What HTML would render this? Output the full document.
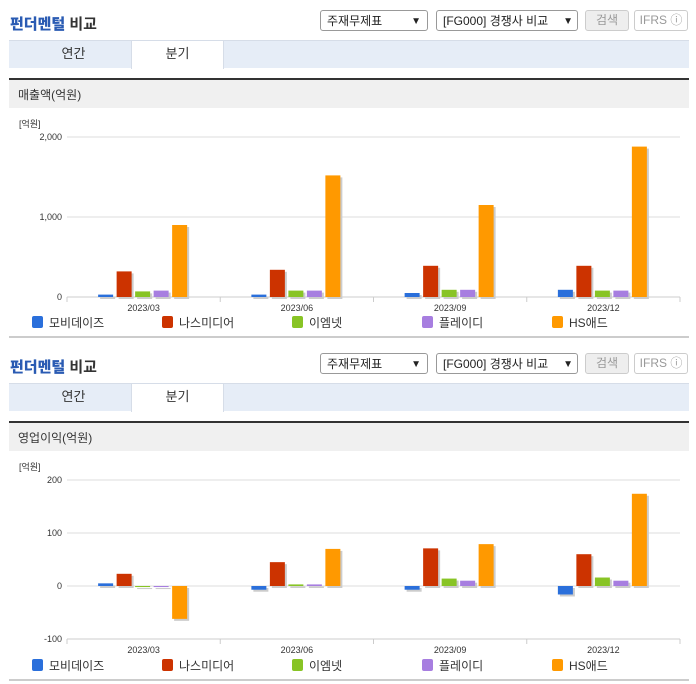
<!DOCTYPE html>
<html><head><meta charset="utf-8">
<style>
body{margin:0;width:696px;height:684px;background:#fff;font-family:"Liberation Sans","Noto Sans CJK KR",sans-serif;position:relative;overflow:hidden}
.abs{position:absolute}
.title{font-size:15px;font-weight:bold;color:#333}
.title b{color:#2a5bb3}
.sel{border:1px solid #999;border-radius:3px;height:21px;font-size:12px;line-height:21px;padding-left:6px;box-sizing:border-box;background:#fff;color:#222}
.btn{border:1px solid #ccc;border-radius:3px;height:21px;font-size:12px;line-height:19px;text-align:center;box-sizing:border-box;color:#999}
.tabs{left:9px;width:680px;height:28px;background:#e6edf7;border-top:1px solid #d6dde8;box-sizing:border-box}
.tab{position:absolute;top:0;height:28px;width:91px;text-align:center;font-size:13px;line-height:26px;color:#333}
.hdr{left:9px;width:680px;height:30px;background:#f0f0f0;border-top:2px solid #333;font-size:12px;line-height:30px;padding-left:9px;box-sizing:border-box;color:#333}
.foot{left:9px;width:680px;height:2px;background:#ccc}
</style></head><body>
<div id="s1"></div><div id="s2"></div>
<script>
const categories=["2023/03","2023/06","2023/09","2023/12"];
const seriesNames=["모비데이즈","나스미디어","이엠넷","플레이디","HS애드"];
const colors=["#2a6fdb","#cc3300","#88c425","#a77ee0","#ff9900"];
const salesValues=[[30,30,50,90],[320,340,390,390],[70,80,90,80],[80,80,90,80],[900,1520,1150,1880]];
const salesTicks=[0,1000,2000];
const salesTickLabels=["0","1,000","2,000"];
const opValues=[[5,-7,-7,-16],[23,45,71,60],[-2,3,14,16],[-2,3,10,10],[-62,70,79,174]];
const opTicks=[-100,0,100,200];
const opTickLabels=["-100","0","100","200"];

function section(id,off,head,vals,ticks,labels,ymin,ymax,yTop,yBot){
  const s=document.getElementById(id);
  
  
  s.innerHTML=`
  <div class="abs title" style="left:10px;top:${off+13}px"><b>펀더멘털</b> 비교</div>
  <div class="abs sel" style="left:320px;top:${off+10}px;width:108px">주재무제표<span style="position:absolute;right:6px;font-size:10px">▼</span></div>
  <div class="abs sel" style="left:436px;top:${off+10}px;width:142px">[FG000] 경쟁사 비교<span style="position:absolute;right:4px;font-size:10px">▼</span></div>
  <div class="abs btn" style="left:585px;top:${off+10}px;width:44px;background:#eee">검색</div>
  <div class="abs btn" style="left:634px;top:${off+10}px;width:54px">IFRS ⓘ</div>
  <div class="abs tabs" style="top:${off+40}px">
    <div class="tab" style="left:19px">연간</div>
    <div class="tab" style="left:122px;background:#fff;border-left:1px solid #d6dde8;border-right:1px solid #d6dde8;height:28px">분기</div>
  </div>
  <div class="abs hdr" style="top:${off+78}px">${head}</div>
  <div class="abs foot" style="top:${off+336}px"></div>`;
  const ns="http://www.w3.org/2000/svg";
  const svg=document.createElementNS(ns,'svg');
  
  
  svg.setAttribute('width','696');svg.setAttribute('height','230');
  svg.style.cssText=`position:absolute;left:0;top:${off+110}px`;
  s.appendChild(svg);
  const oy=off+110;
  const y=v=>yBot-(v-ymin)/(ymax-ymin)*(yBot-yTop)-oy;
  const x0=67,x1=680,gw=(x1-x0)/categories.length;
  let h=`<text x="19" y="${off+127-oy}" font-size="9" fill="#333">[억원]</text>`;
  ticks.forEach((t,i)=>{h+=`<line x1="${x0}" x2="${x1}" y1="${y(t)}" y2="${y(t)}" stroke="${t===ymin?'#ccc':'#ddd'}"/><text x="62" y="${y(t)+3}" font-size="9" text-anchor="end" fill="#333">${labels[i]}</text>`;});
  categories.forEach((c,i)=>{
    const cx=x0+gw*(i+0.5);
    h+=`<line x1="${x0+gw*i}" x2="${x0+gw*i}" y1="${y(ymin)}" y2="${y(ymin)+5}" stroke="#ccc"/>`;
    h+=`<text x="${cx}" y="${y(ymin)+14}" font-size="9" text-anchor="middle" fill="#333">${c}</text>`;
    vals.forEach((sv,k)=>{
      const bx=cx-45.5+k*18.5, v=sv[i], ya=y(Math.max(v,0)), yb=y(Math.min(v,0));
      h+=`<rect x="${bx+2}" y="${ya+2}" width="15" height="${Math.max(yb-ya,1)}" fill="#ccc"/>`;
      h+=`<rect x="${bx}" y="${ya}" width="15" height="${Math.max(yb-ya,1)}" fill="${colors[k]}"/>`;
    });
  });
  h+=`<line x1="${x1}" x2="${x1}" y1="${y(ymin)}" y2="${y(ymin)+5}" stroke="#ccc"/>`;
  const lx=[32,162,292,422,552];
  seriesNames.forEach((n,k)=>{h+=`<g><rect x="${lx[k]}" y="${off+316-oy}" width="11" height="12" rx="2" fill="${colors[k]}"/><text x="${lx[k]+17}" y="${off+327-oy}" font-size="12" fill="#333">${n}</text></g>`;});
  svg.innerHTML=h;
}
section('s1',0,'매출액(억원)',salesValues,salesTicks,salesTickLabels,0,2000,137,297);
section('s2',343,'영업이익(억원)',opValues,opTicks,opTickLabels,-100,200,480,639);
</script>
</body></html>
